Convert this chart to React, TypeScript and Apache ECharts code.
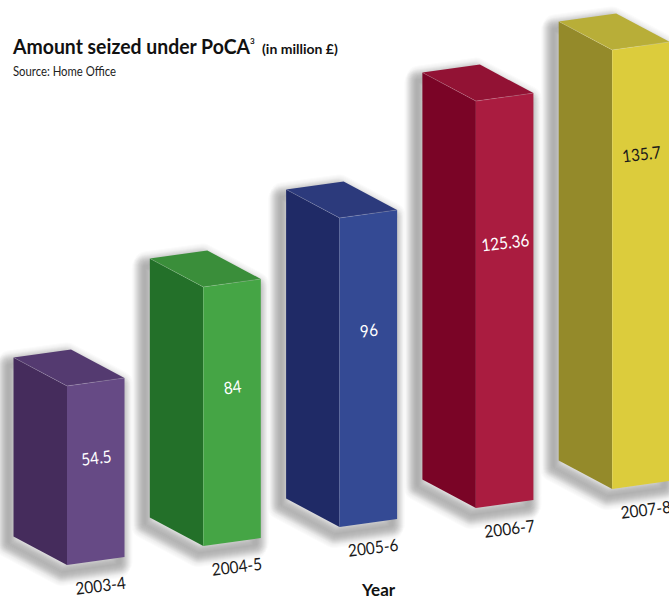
import React, { useEffect, useRef } from "react";
import * as echarts from "echarts";

const categories = ["2003-4", "2004-5", "2005-6", "2006-7", "2007-8"];
const valueLabels = ["54.5", "84", "96", "125.36", "135.7"];
// bar heights as drawn in the picture, in axis units
const drawnHeights = [55.1, 79.7, 95.1, 125.2, 135.1];
const frontColors = ["#664a85", "#45a545", "#344a94", "#aa1c40", "#dccc3c"];
const sideColors = ["#452c5c", "#237029", "#1f2a66", "#7a0426", "#948a2a"];
const topColors = ["#543a70", "#3a8e3a", "#2c3a7c", "#921234", "#b8ae38"];
const valueTextColors = ["#ffffff", "#ffffff", "#ffffff", "#ffffff", "#1a1a1a"];

const FONT = "Lato";
const RISE = 19; // each bar's foot sits higher than the one before
const LEFT = [-53.5, -28.5];
const RIGHT = [57.5, -8];
const TILT = 0.12;
const LABEL_AT = [0.58, 0.6, 0.625, 0.644, 0.755];
const SHADOW_WIDTHS = [24, 22, 20, 18, 16, 14, 12, 10, 8, 6, 4];
const SHADOW_SHIFTS = [[-6, 9], [-4, 5]];

function renderBar(params: any, api: any) {
  const i = api.value(0);
  const base = api.coord([i, 0]);
  const top = api.coord([i, api.value(1)]);
  const rise = i * RISE;
  const fx = base[0];
  const by = base[1] - rise;
  const ty = top[1] - rise;
  const pt = (x: number, y: number) => [x, y];
  const hull = [
    pt(fx + LEFT[0], ty + LEFT[1]),
    pt(fx + LEFT[0] + RIGHT[0], ty + LEFT[1] + RIGHT[1]),
    pt(fx + RIGHT[0], ty + RIGHT[1]),
    pt(fx + RIGHT[0], by + RIGHT[1]),
    pt(fx, by),
    pt(fx + LEFT[0], by + LEFT[1]),
  ];
  const side = [pt(fx + LEFT[0], ty + LEFT[1]), pt(fx, ty), pt(fx, by), pt(fx + LEFT[0], by + LEFT[1])];
  const front = [pt(fx, ty), pt(fx + RIGHT[0], ty + RIGHT[1]), pt(fx + RIGHT[0], by + RIGHT[1]), pt(fx, by)];
  const roof = [hull[0], hull[1], hull[2], pt(fx, ty)];
  const labelY = by + RIGHT[1] / 2 - (by - ty) * LABEL_AT[i];
  const shadows: any[] = [];
  SHADOW_SHIFTS.forEach((s) => {
    const pts = hull.map((p) => pt(p[0] + s[0], p[1] + s[1]));
    SHADOW_WIDTHS.forEach((w) => {
      shadows.push({
        type: "polygon",
        shape: { points: pts },
        style: { fill: "none", stroke: "rgba(40,45,55,0.02)", lineWidth: w, lineJoin: "round" },
      });
    });
  });
  return {
    type: "group",
    children: [
      ...shadows,
      { type: "polygon", shape: { points: side }, style: { fill: sideColors[i] } },
      { type: "polygon", shape: { points: front }, style: { fill: frontColors[i] } },
      { type: "polygon", shape: { points: roof }, style: { fill: topColors[i] } },
      {
        type: "polyline",
        shape: { points: [hull[0], pt(fx, ty), hull[2]] },
        style: { stroke: "rgba(255,255,255,0.22)", lineWidth: 0.7, fill: "none" },
      },
      {
        type: "text",
        x: fx + RIGHT[0] / 2 + 0.5,
        y: labelY,
        rotation: TILT,
        scaleX: 0.9,
        style: {
          text: valueLabels[i],
          fill: valueTextColors[i],
          font: `17px ${FONT}`,
          align: "center",
          verticalAlign: "middle",
        },
      },
      {
        type: "text",
        x: fx + 33.5,
        y: by + 20,
        rotation: TILT,
        scaleX: 0.91,
        style: {
          text: categories[i],
          fill: "#1a1a1a",
          font: `17px ${FONT}`,
          align: "center",
          verticalAlign: "middle",
        },
      },
    ],
  };
}

export default function App() {
  const ref = useRef<HTMLDivElement>(null);
  useEffect(() => {
    const chart = echarts.init(ref.current!, null, { renderer: "svg" });
    chart.setOption({
      animation: false,
      backgroundColor: "#ffffff",
      grid: { left: -1.15, top: 12.5, width: 681.5, height: 552.5, outerBoundsMode: "none" },
      xAxis: { type: "category", data: categories, show: false },
      yAxis: { type: "value", min: 0, max: 170, show: false },
      series: [
        {
          type: "custom",
          renderItem: renderBar,
          clip: false,
          data: drawnHeights.map((h, i) => [i, h]),
          encode: { x: 0, y: 1 },
        },
      ],
      graphic: [
        {
          type: "text",
          x: 13,
          y: 35,
          scaleX: 0.925,
          style: { text: "Amount seized under PoCA", fill: "#111", font: `bold 21px ${FONT}` },
        },
        {
          type: "text",
          x: 250,
          y: 37,
          style: { text: "3", fill: "#111", font: `bold 8px ${FONT}` },
        },
        {
          type: "text",
          x: 262,
          y: 41,
          style: { text: "(in million £)", fill: "#111", font: `bold 14px ${FONT}` },
        },
        {
          type: "text",
          x: 13,
          y: 65,
          scaleX: 0.87,
          style: { text: "Source: Home Office", fill: "#222", font: `13px ${FONT}` },
        },
        {
          type: "text",
          x: 362,
          y: 581,
          style: { text: "Year", fill: "#111", font: `bold 17px ${FONT}` },
        },
      ],
    });
    return () => chart.dispose();
  }, []);
  return <div ref={ref} style={{ position: "absolute", left: 0, top: 0, width: 669, height: 597 }} />;
}
